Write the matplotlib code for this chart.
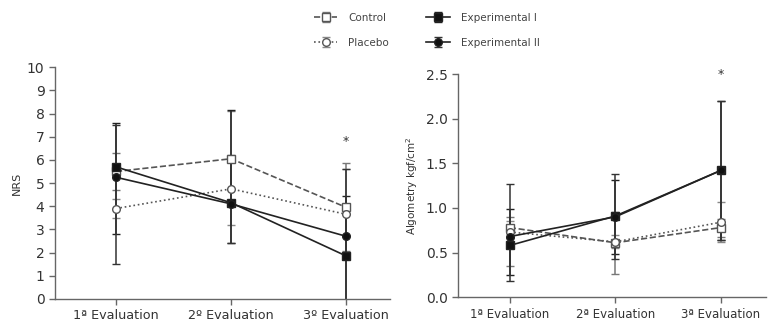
import matplotlib.pyplot as plt
import numpy as np

# groups and time points
groups = ['Control', 'Placebo', 'Experimental I', 'Experimental II']
evals_nrs = ['1ª Evaluation', '2º Evaluation', '3º Evaluation']
evals_alg = ['1ª Evaluation', '2ª Evaluation', '3ª Evaluation']

# NRS means and lower / upper error lengths
nrs_mean = {
    'Control':         [5.5, 6.05, 3.95],
    'Placebo':         [3.9, 4.75, 3.65],
    'Experimental I':  [5.7, 4.15, 1.85],
    'Experimental II': [5.25, 4.1, 2.7],
}
nrs_lo = {
    'Control':         [0.8, 2.05, 1.9],
    'Placebo':         [0.4, 1.55, 1.95],
    'Experimental I':  [2.9, 1.75, 2.6],
    'Experimental II': [3.75, 1.7, 2.9],
}
nrs_hi = {
    'Control':         [0.8, 2.05, 1.9],
    'Placebo':         [0.4, 1.45, 1.95],
    'Experimental I':  [1.9, 4.0, 2.6],
    'Experimental II': [2.25, 2.0, 2.9],
}

# algometry means and lower / upper error lengths
alg_mean = {
    'Control':         [0.78, 0.61, 0.78],
    'Placebo':         [0.73, 0.62, 0.84],
    'Experimental I':  [0.58, 0.91, 1.42],
    'Experimental II': [0.68, 0.90, 1.42],
}
alg_lo = {
    'Control':         [0.43, 0.35, 0.10],
    'Placebo':         [0.13, 0.07, 0.22],
    'Experimental I':  [0.33, 0.43, 0.78],
    'Experimental II': [0.50, 0.47, 0.78],
}
alg_hi = {
    'Control':         [0.12, 0.34, 0.10],
    'Placebo':         [0.12, 0.08, 0.23],
    'Experimental I':  [0.41, 0.40, 0.78],
    'Experimental II': [0.59, 0.48, 0.78],
}

style = {
    'Control':         dict(marker='s', ls='--', mfc='white', color='#555555', ecolor='#777777'),
    'Placebo':         dict(marker='o', ls=':', mfc='white', color='#555555', ecolor='#888888'),
    'Experimental I':  dict(marker='s', ls='-', mfc='#111111', color='#222222', ecolor='#222222'),
    'Experimental II': dict(marker='o', ls='-', mfc='#111111', color='#222222', ecolor='#333333'),
}

plt.rcParams['font.family'] = 'DejaVu Sans'
fig = plt.figure(figsize=(7.7, 3.22), dpi=100)
ax1 = fig.add_axes([0.0714, 0.072, 0.435, 0.719])
ax2 = fig.add_axes([0.595, 0.077, 0.40, 0.693])

x = np.arange(1, 4)


def draw(ax, means, lo, hi):
    handles = []
    for g in groups:
        s = style[g]
        h = ax.errorbar(x, means[g], yerr=[lo[g], hi[g]], marker=s['marker'], ls=s['ls'],
                        color=s['color'], mfc=s['mfc'], mec=s['color'], ms=5.5, lw=1.2,
                        ecolor=s['ecolor'], elinewidth=1.1, capsize=3, capthick=1.0,
                        label=g, clip_on=True)
        handles.append(h)
    for side in ['top', 'right']:
        ax.spines[side].set_visible(False)
    for side in ['left', 'bottom']:
        ax.spines[side].set_color('#666666')
        ax.spines[side].set_linewidth(1.0)
    ax.tick_params(colors='#666666', labelcolor='#333333', direction='out', length=4, width=1)
    ax.set_xticks(x)
    return handles


handles = draw(ax1, nrs_mean, nrs_lo, nrs_hi)
ax1.set_xlim(0.47, 3.38)
ax1.set_ylim(0, 10)
ax1.set_yticks(range(0, 11))
ax1.set_xticklabels(evals_nrs, fontsize=9.2)
ax1.tick_params(axis='y', labelsize=10)
ax1.set_ylabel('NRS', fontsize=8, color='#333333')
ax1.text(3, 6.8, '*', ha='center', va='center', fontsize=9, color='#333333')

draw(ax2, alg_mean, alg_lo, alg_hi)
ax2.set_xlim(0.51, 3.43)
ax2.set_ylim(0, 2.5)
ax2.set_yticks(np.arange(0, 2.51, 0.5))
ax2.yaxis.set_major_formatter(plt.FormatStrFormatter('%.1f'))
ax2.set_xticklabels(evals_alg, fontsize=8.5)
ax2.tick_params(axis='y', labelsize=10)
ax2.set_ylabel('Algometry kgf/cm$^2$', fontsize=7.5, color='#333333')
ax2.text(3, 2.5, '*', ha='center', va='center', fontsize=9, color='#333333')

fig.legend(handles, groups, loc='upper left', bbox_to_anchor=(0.395, 0.99), ncol=2,
           frameon=False, fontsize=7.5, handlelength=2.3, columnspacing=3.6,
           labelspacing=1.45, handletextpad=1.0, labelcolor='#444444')

fig.savefig('out.png', dpi=100)
